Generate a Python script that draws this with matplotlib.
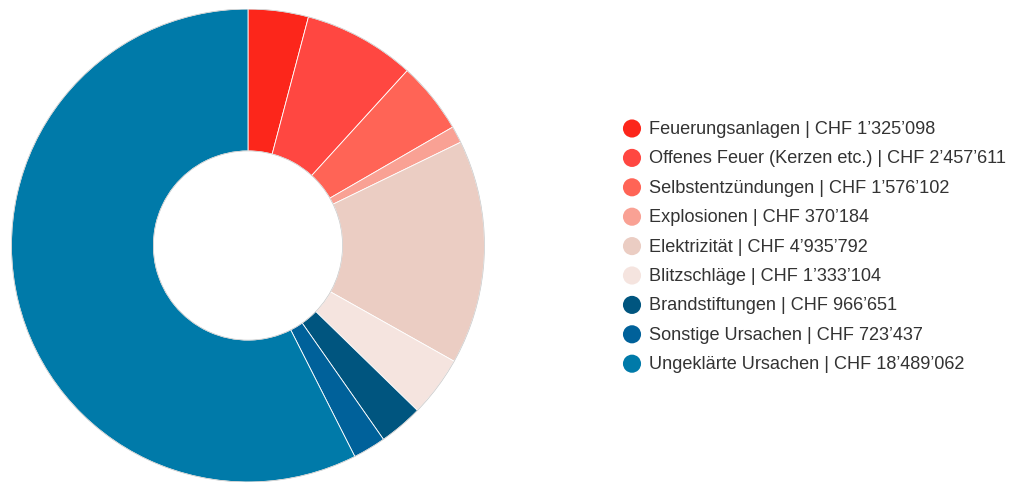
import matplotlib.pyplot as plt
from matplotlib.patches import Circle

plt.rcParams['font.family'] = ['Liberation Sans', 'DejaVu Sans']

categories = ['Feuerungsanlagen', 'Offenes Feuer (Kerzen etc.)', 'Selbstentzündungen',
              'Explosionen', 'Elektrizität', 'Blitzschläge', 'Brandstiftungen',
              'Sonstige Ursachen', 'Ungeklärte Ursachen']
values = [1325098, 2457611, 1576102, 370184, 4935792, 1333104, 966651, 723437, 18489062]
colors = ['#fc261b', '#ff4741', '#ff6456', '#f9a194', '#ebcdc3', '#f5e4df',
          '#00557f', '#00619a', '#007aa9']


def fmt_chf(v):
    return 'CHF ' + f'{v:,}'.replace(',', '\u2019')


fig = plt.figure(figsize=(10.23, 4.84), dpi=100)

# donut
ax = fig.add_axes([0.01075, 0.0031, 0.4633, 0.9793])
ax.pie(values, colors=colors, startangle=90, counterclock=False,
       wedgeprops=dict(width=0.6, edgecolor='white', linewidth=0.6))
# faint grey rim around the ring, as in the original
for r in (1.0, 0.4):
    ax.add_patch(Circle((0, 0), r, fill=False, edgecolor='#c8c8c8', linewidth=0.5))
ax.set_xlim(-1.002, 1.002)
ax.set_ylim(-1.002, 1.002)
ax.set_aspect('equal')

# legend drawn by hand to match row spacing
lax = fig.add_axes([0, 0, 1, 1])
lax.set_xlim(0, 1023)
lax.set_ylim(484, 0)
lax.axis('off')
y0, dy = 128.5, 29.4
for i, (name, v, c) in enumerate(zip(categories, values, colors)):
    y = y0 + i * dy
    lax.scatter([632], [y], s=170, color=c, edgecolors='none')
    lax.text(649, y + 1, f'{name} | {fmt_chf(v)}', fontsize=13.1, color='#333333',
             va='center', ha='left')

fig.savefig('out.png', dpi=100)
